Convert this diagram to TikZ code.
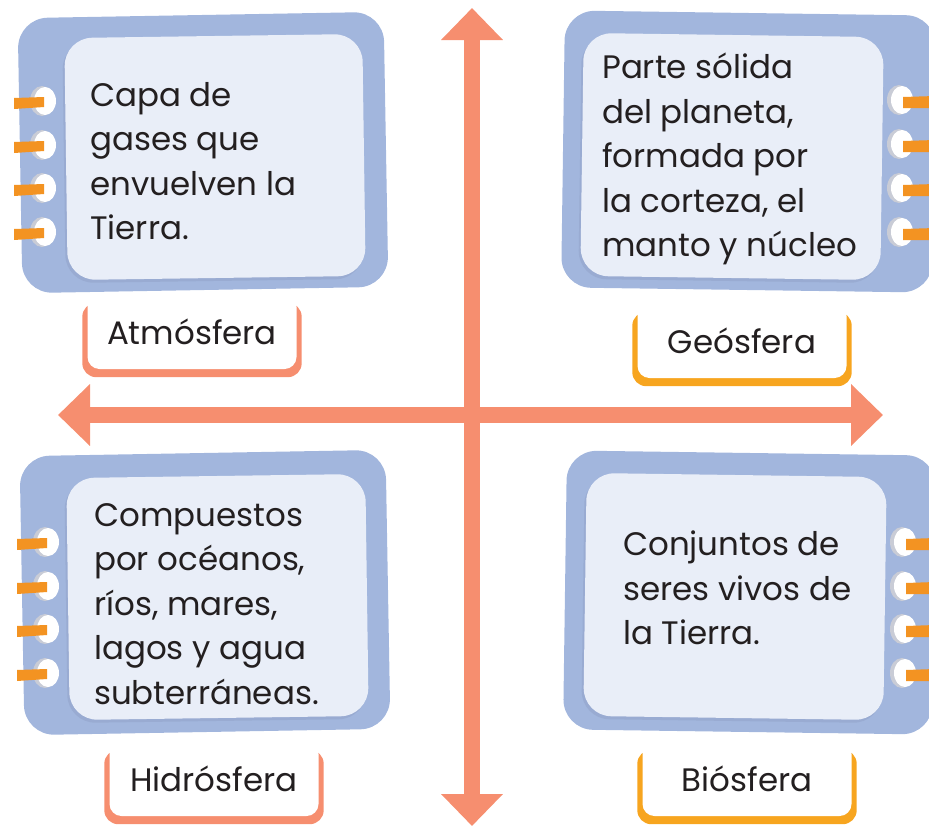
\documentclass[tikz,border=0pt]{standalone}
\usepackage{fontspec}
\setmainfont{Poppins}
\usepackage{tikz}
\usetikzlibrary{arrows.meta,calc,backgrounds}
\definecolor{salmon}{HTML}{F68E6F}
\definecolor{amber}{HTML}{F7A51F}
\definecolor{tabc}{HTML}{F39322}
\definecolor{cardblue}{HTML}{A2B6DD}
\definecolor{sheetc}{HTML}{E9EEF8}
\definecolor{sheetsh}{HTML}{93A5CB}
\definecolor{ringsh}{HTML}{C9CCD6}
\definecolor{ink}{HTML}{231F20}

\begin{document}
\begin{tikzpicture}[x=1pt, y=-1pt, font=\fontsize{32.5}{44.5}\selectfont,
  card/.style={fill=cardblue, rounded corners=30pt},
  sheet/.style={fill=sheetc, rounded corners=28pt, preaction={fill=sheetsh, opacity=0.6, transform canvas={shift={(-2pt,-3pt)}}}},
  txt/.style={anchor=west, align=left, text=ink, inner sep=0pt},
  tag/.style={fill=white, rounded corners=12pt, minimum width=209pt, minimum height=74pt, inner sep=0pt, text=ink},
  axis/.style={draw=salmon, line width=16pt, {Triangle[length=32pt,width=60pt]}-{Triangle[length=32pt,width=60pt]}}]
\useasboundingbox (0,0) rectangle (929,827);
\clip (0,0) rectangle (929,827);
% axes
\coordinate (N) at (472,8);
\coordinate (S) at (472,826);
\coordinate (W) at (58,415);
\coordinate (E) at (883,415);
\draw[axis] (N) -- (S);
\draw[axis] (W) -- (E);
% top left card
\fill[card, rotate around={1:(203,152)}] (20,15) rectangle (386,290);
\fill[sheet, rotate around={0.8:(215,157)}] (66,36) rectangle (364,278);
\foreach \y in {101,145,188,232} {
  \fill[ringsh] (42,\y) ellipse (12 and 15);
  \fill[white] (45,\y) ellipse (11 and 14);
  \fill[tabc] (14,\y-3) -- (44,\y-4) -- (44,\y+6) -- (14,\y+8) -- cycle;
}
\node[txt] (atmtxt) at (90,161) {Capa de\\gases que\\envuelven la\\Tierra.};
% top right card
\fill[card, rotate around={-0.8:(748,152)}] (563,13) rectangle (934,290);
\fill[sheet, rotate around={-0.8:(732,157)}] (582,35) rectangle (882,278);
\foreach \y in {100,144,188,232} {
  \fill[ringsh] (899,\y) ellipse (12 and 15);
  \fill[white] (902,\y) ellipse (11 and 14);
  \fill[tabc] (903,\y-3) -- (935,\y-4) -- (935,\y+8) -- (903,\y+8) -- cycle;
}
\node[txt] (geotxt) at (602,159) {Parte sólida\\del planeta,\\formada por\\la corteza, el\\manto y núcleo};
% bottom left card
\fill[card, rotate around={1:(205,592)}] (22,453) rectangle (388,732);
\fill[sheet, rotate around={0.8:(217,597)}] (68,476) rectangle (367,718);
\foreach \y in {542,586,629,673} {
  \fill[ringsh] (45,\y) ellipse (12 and 15);
  \fill[white] (48,\y) ellipse (11 and 14);
  \fill[tabc] (17,\y-3) -- (47,\y-4) -- (47,\y+6) -- (17,\y+8) -- cycle;
}
\node[txt] (hidtxt) at (94,604) {Compuestos\\por océanos,\\ríos, mares,\\lagos y agua\\subterráneas.};
% bottom right card
\fill[card, rotate around={-0.8:(750,592)}] (565,453) rectangle (934,732);
\fill[sheet, rotate around={-0.8:(735,596)}] (585,475) rectangle (885,718);
\foreach \y in {542,586,629,673} {
  \fill[ringsh] (902,\y) ellipse (12 and 15);
  \fill[white] (905,\y) ellipse (11 and 14);
  \fill[tabc] (906,\y-3) -- (935,\y-4) -- (935,\y+8) -- (906,\y+8) -- cycle;
}
\node[txt] (biotxt) at (623,588) {Conjuntos de\\seres vivos de\\la Tierra.};
% tags
\node[tag] (atm) at (192,332) {Atmósfera};
\node[tag] (geo) at (742,341) {Geósfera};
\node[tag] (hid) at (214,779) {Hidrósfera};
\node[tag] (bio) at (747,779) {Biósfera};
\begin{scope}[on background layer]
\fill[salmon, rounded corners=14pt] ($(atm.north west)+(-5,8)$) rectangle ($(atm.south east)+(5,8)$);
\fill[amber, rounded corners=14pt] ($(geo.north west)+(-5,8)$) rectangle ($(geo.south east)+(5,8)$);
\fill[salmon, rounded corners=14pt] ($(hid.north west)+(-5,8)$) rectangle ($(hid.south east)+(5,8)$);
\fill[amber, rounded corners=14pt] ($(bio.north west)+(-5,8)$) rectangle ($(bio.south east)+(5,8)$);
\end{scope}
\end{tikzpicture}
\end{document}
